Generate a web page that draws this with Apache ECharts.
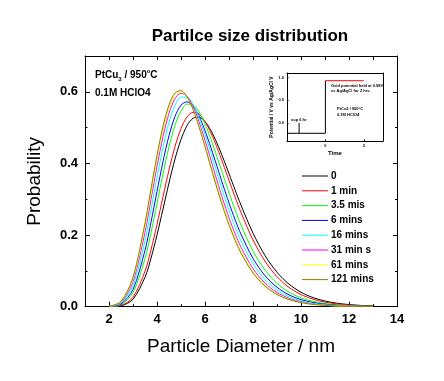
<!DOCTYPE html>
<html>
<head>
<meta charset="utf-8">
<script src="https://cdn.jsdelivr.net/npm/echarts@6/dist/echarts.min.js"></script>
<style>
  html, body { margin: 0; padding: 0; background: #fff; }
  #chart { width: 444px; height: 381px; }
</style>
</head>
<body>
<div id="chart"></div>
<script>
// legend names, in drawing order
var names = ['0', '1 min', '3.5 mis', '6 mins', '16 mins', '31 min s', '61 mins', '121 mins']
var colors = ['#000000', '#ff0000', '#00ff00', '#0000ff', '#00ffff', '#ff00ff', '#ffff00', '#808000']

// particle diameter (nm), shared by all curves
var diam = [2, 2.5, 3, 3.5, 3.75, 4, 4.25, 4.5, 4.75, 5, 5.25, 5.5, 5.75, 6, 6.25, 6.5, 6.75, 7, 7.25, 7.5,
  8, 8.5, 9, 9.5, 10, 10.5, 11, 11.5, 12, 12.5, 13]

// probability
var p0 = [0.0001, 0.0025, 0.0207, 0.0824, 0.1351, 0.2002, 0.2726, 0.3457, 0.4124, 0.4670, 0.5055, 0.5261,
  0.5292, 0.5166, 0.4913, 0.4565, 0.4157, 0.3715, 0.3268, 0.2834, 0.2054, 0.1428, 0.0961, 0.0629, 0.0403,
  0.0254, 0.0158, 0.0097, 0.0059, 0.0036, 0.0022]
var p1 = [0.0001, 0.0034, 0.0263, 0.0992, 0.1588, 0.2302, 0.3071, 0.3819, 0.4473, 0.4977, 0.5297, 0.5426,
  0.5376, 0.5172, 0.4850, 0.4447, 0.3997, 0.3529, 0.3067, 0.2629, 0.1864, 0.1269, 0.0838, 0.0538, 0.0339,
  0.0210, 0.0128, 0.0078, 0.0047, 0.0028, 0.0017]
var p35 = [0.0002, 0.0055, 0.0390, 0.1343, 0.2065, 0.2883, 0.3711, 0.4463, 0.5063, 0.5466, 0.5654, 0.5635,
  0.5439, 0.5104, 0.4673, 0.4187, 0.3681, 0.3181, 0.2709, 0.2276, 0.1553, 0.1020, 0.0651, 0.0406, 0.0248,
  0.0149, 0.0089, 0.0052, 0.0031, 0.0018, 0.0010]
var p6 = [0.0004, 0.0073, 0.0483, 0.1574, 0.2361, 0.3219, 0.4053, 0.4775, 0.5311, 0.5628, 0.5719, 0.5605,
  0.5323, 0.4918, 0.4436, 0.3919, 0.3399, 0.2898, 0.2437, 0.2023, 0.1348, 0.0867, 0.0542, 0.0331, 0.0198,
  0.0117, 0.0069, 0.0040, 0.0023, 0.0013, 0.0008]
var p16 = [0.0005, 0.0096, 0.0597, 0.1847, 0.2707, 0.3611, 0.4454, 0.5146, 0.5621, 0.5853, 0.5851, 0.5644,
  0.5280, 0.4808, 0.4278, 0.3729, 0.3193, 0.2690, 0.2234, 0.1833, 0.1196, 0.0753, 0.0462, 0.0277, 0.0163,
  0.0095, 0.0055, 0.0031, 0.0018, 0.0010, 0.0006]
var p31 = [0.0007, 0.0119, 0.0703, 0.2082, 0.2991, 0.3916, 0.4749, 0.5398, 0.5806, 0.5958, 0.5873, 0.5592,
  0.5165, 0.4647, 0.4087, 0.3522, 0.2984, 0.2488, 0.2046, 0.1662, 0.1064, 0.0659, 0.0397, 0.0235, 0.0136,
  0.0078, 0.0044, 0.0025, 0.0014, 0.0008, 0.0004]
var p61 = [0.0008, 0.0137, 0.0781, 0.2244, 0.3182, 0.4115, 0.4933, 0.5545, 0.5902, 0.5998, 0.5858, 0.5527,
  0.5062, 0.4517, 0.3941, 0.3372, 0.2835, 0.2347, 0.1918, 0.1548, 0.0979, 0.0599, 0.0357, 0.0209, 0.0120,
  0.0068, 0.0038, 0.0022, 0.0012, 0.0007, 0.0004]
var p121 = [0.0009, 0.0148, 0.0826, 0.2336, 0.3289, 0.4229, 0.5039, 0.5634, 0.5966, 0.6033, 0.5864, 0.5508,
  0.5024, 0.4464, 0.3880, 0.3307, 0.2771, 0.2286, 0.1861, 0.1498, 0.0942, 0.0573, 0.0340, 0.0197, 0.0113,
  0.0064, 0.0036, 0.0020, 0.0011, 0.0006, 0.0003]

var xLabels = [2, 4, 6, 8, 10, 12, 14]
var xMinor = [3, 5, 7, 9, 11, 13]
var xAll = [2, 3, 4, 5, 6, 7, 8, 9, 10, 11, 12, 13]
var yLabels = [0, 0.2, 0.4, 0.6]
var yMinor = [0.1, 0.3, 0.5]

// inset: potential step vs time (h)
var ocpTime = [-2, 0, 0]
var ocpPot = [-0.23, -0.23, 0.93]
var holdTime = [0, 2]
var holdPot = [0.93, 0.93]
var markTime = [-1.37, -1.37]
var markPot = [0, -0.23]
var insetX = [0, 2]
var insetY = [0, 0.5, 1.0]

var FONT = 'Liberation Sans, Arial, sans-serif'

function pairs (xs, ys) {
  return xs.map(function (x, i) { return [x, ys[i]] })
}

var curves = [p0, p1, p35, p6, p16, p31, p61, p121]

var series = curves.map(function (p, i) {
  return {
    name: names[i],
    type: 'line',
    xAxisIndex: 0,
    yAxisIndex: 0,
    data: pairs(diam, p),
    smooth: 0.3,
    symbol: 'none',
    lineStyle: { color: colors[i], width: 1 },
    itemStyle: { color: colors[i] }
  }
})

series.push({
  type: 'line', xAxisIndex: 4, yAxisIndex: 4, data: pairs(ocpTime, ocpPot),
  symbol: 'none', lineStyle: { color: '#000', width: 1 }
})
series.push({
  type: 'line', xAxisIndex: 4, yAxisIndex: 4, data: pairs(holdTime, holdPot),
  symbol: 'none', lineStyle: { color: '#ff0000', width: 1 }
})
series.push({
  type: 'line', xAxisIndex: 4, yAxisIndex: 4, data: pairs(markTime, markPot),
  symbol: 'none', lineStyle: { color: '#000', width: 1 }
})

function tickOnly (opts) {
  return Object.assign({
    gridIndex: 0,
    type: 'value',
    axisLine: { show: false },
    axisLabel: { show: false },
    splitLine: { show: false }
  }, opts)
}

var option = {
  animation: false,
  backgroundColor: '#fff',
  grid: [
    { left: 85, top: 56, width: 312, height: 250.7, outerBoundsMode: 'none' },
    { left: 287, top: 73, width: 96, height: 68, outerBoundsMode: 'none' }
  ],
  legend: {
    data: names,
    orient: 'vertical',
    left: 302,
    top: 171,
    padding: 0,
    icon: 'path://M0,0H26V1H0Z',
    itemWidth: 26,
    itemHeight: 10,
    itemGap: 4.8,
    textStyle: { fontFamily: FONT, fontSize: 10, fontWeight: 'bold', color: '#000', padding: [0, 0, 0, -2] }
  },
  xAxis: [
    {
      gridIndex: 0, type: 'value', min: 1, max: 14, interval: 1,
      name: 'Particle Diameter / nm', nameLocation: 'middle', nameGap: 31,
      nameTextStyle: { fontFamily: FONT, fontSize: 19, color: '#000' },
      axisLine: { show: true, onZero: false, lineStyle: { color: '#000', width: 1 } },
      axisTick: { show: true, inside: true, length: 5, customValues: xLabels, lineStyle: { color: '#000' } },
      axisLabel: { customValues: xLabels, margin: 6, fontFamily: FONT, fontSize: 13, fontWeight: 'bold', color: '#000' },
      splitLine: { show: false }
    },
    tickOnly({ min: 1, max: 14, interval: 1, position: 'bottom',
      axisTick: { show: true, inside: true, length: 2.5, customValues: xMinor, lineStyle: { color: '#000' } } }),
    tickOnly({ min: 1, max: 14, interval: 1, position: 'top',
      axisLine: { show: true, onZero: false, lineStyle: { color: '#000', width: 1 } },
      axisTick: { show: true, inside: true, length: 4, customValues: xAll, lineStyle: { color: '#000' } } }),
    tickOnly({ min: 1, max: 14, interval: 1, position: 'top', axisTick: { show: false } }),
    {
      gridIndex: 1, type: 'value', min: -2, max: 3,
      name: 'Time', nameLocation: 'middle', nameGap: 9,
      nameTextStyle: { fontFamily: FONT, fontSize: 6, fontWeight: 'bold', color: '#000' },
      axisLine: { show: true, onZero: false, lineStyle: { color: '#000', width: 1 } },
      axisTick: { show: true, inside: true, length: 1.5, customValues: insetX, lineStyle: { color: '#000' } },
      axisLabel: { customValues: insetX, margin: 3, fontFamily: FONT, fontSize: 4, fontWeight: 'bold', color: '#000' },
      splitLine: { show: false }
    },
    {
      gridIndex: 1, type: 'value', min: -2, max: 3, position: 'top',
      axisLine: { show: true, onZero: false, lineStyle: { color: '#000', width: 1 } },
      axisTick: { show: false }, axisLabel: { show: false }, splitLine: { show: false }
    }
  ],
  yAxis: [
    {
      gridIndex: 0, type: 'value', min: 0, max: 0.7, interval: 0.1,
      name: 'Probability', nameLocation: 'middle', nameGap: 41,
      nameTextStyle: { fontFamily: FONT, fontSize: 19, color: '#000' },
      axisLine: { show: true, onZero: false, lineStyle: { color: '#000', width: 1 } },
      axisTick: { show: true, inside: true, length: 5, customValues: yLabels, lineStyle: { color: '#000' } },
      axisLabel: {
        customValues: yLabels, margin: 7, fontFamily: FONT, fontSize: 13, fontWeight: 'bold', color: '#000',
        formatter: function (v) { return v.toFixed(1) }
      },
      splitLine: { show: false }
    },
    tickOnly({ min: 0, max: 0.7, interval: 0.1, position: 'left',
      axisTick: { show: true, inside: true, length: 2.5, customValues: yMinor, lineStyle: { color: '#000' } } }),
    tickOnly({ min: 0, max: 0.7, interval: 0.1, position: 'right',
      axisLine: { show: true, onZero: false, lineStyle: { color: '#000', width: 1 } },
      axisTick: { show: true, inside: true, length: 4, customValues: yLabels, lineStyle: { color: '#000' } } }),
    tickOnly({ min: 0, max: 0.7, interval: 0.1, position: 'right',
      axisTick: { show: true, inside: true, length: 2, customValues: yMinor, lineStyle: { color: '#000' } } }),
    {
      gridIndex: 1, type: 'value', min: -0.4, max: 1.1,
      name: 'Potential / V vs Ag/AgCl V', nameLocation: 'middle', nameGap: 12,
      nameTextStyle: { fontFamily: FONT, fontSize: 5, fontWeight: 'bold', color: '#000' },
      axisLine: { show: true, onZero: false, lineStyle: { color: '#000', width: 1 } },
      axisTick: { show: true, inside: true, length: 1.5, customValues: insetY, lineStyle: { color: '#000' } },
      axisLabel: {
        customValues: insetY, margin: 3, fontFamily: FONT, fontSize: 4, fontWeight: 'bold', color: '#000',
        formatter: function (v) { return v.toFixed(1) }
      },
      splitLine: { show: false }
    },
    {
      gridIndex: 1, type: 'value', min: -0.4, max: 1.1, position: 'right',
      axisLine: { show: true, onZero: false, lineStyle: { color: '#000', width: 1 } },
      axisTick: { show: false }, axisLabel: { show: false }, splitLine: { show: false }
    }
  ],
  graphic: [
    {
      type: 'text', x: 250, y: 28,
      style: { text: 'Partilce size distribution', align: 'center', fill: '#000', font: 'bold 17px ' + FONT }
    },
    {
      type: 'text', x: 95, y: 68,
      style: {
        text: '{a|PtCu}{s|3}{a| / 950}{p|o}{a|C}',
        fill: '#000',
        rich: {
          a: { font: 'bold 10px ' + FONT, lineHeight: 14, verticalAlign: 'middle' },
          s: { font: 'bold 6px ' + FONT, lineHeight: 14, verticalAlign: 'bottom' },
          p: { font: 'bold 6px ' + FONT, lineHeight: 14, verticalAlign: 'top' }
        }
      }
    },
    {
      type: 'text', x: 95, y: 88,
      style: { text: '0.1M HClO4', fill: '#000', font: 'bold 10px ' + FONT }
    },
    {
      type: 'text', x: 331, y: 83,
      style: { text: 'Oxid potential held at 0.98V\nvs Ag/AgCl for 2 hrs.', fill: '#000', font: 'bold 4px ' + FONT, lineHeight: 5 }
    },
    {
      type: 'text', x: 337, y: 106,
      style: { text: 'PtCu3 / 950°C\n0.1M HClO4', fill: '#000', font: 'bold 4px ' + FONT, lineHeight: 6 }
    },
    {
      type: 'text', x: 291, y: 118,
      style: { text: 'ocp 6 hr', fill: '#000', font: 'bold 4px ' + FONT }
    }
  ],
  series: series
}

var chart = echarts.init(document.getElementById('chart'), null, { renderer: 'canvas' })
chart.setOption(option)
</script>
</body>
</html>
